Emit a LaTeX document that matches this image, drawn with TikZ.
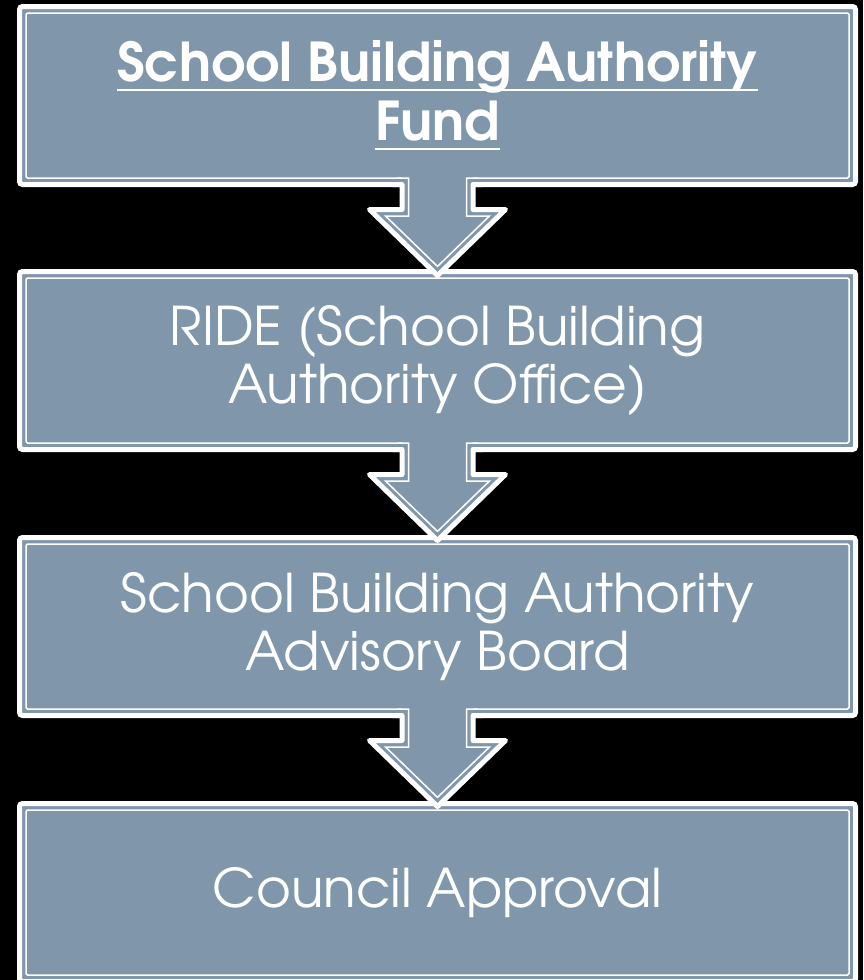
\documentclass[tikz,border=0pt]{standalone}
\usepackage{fontspec}
\setmainfont{TeX Gyre Adventor}
\usepackage{tikz}

\definecolor{slate}{RGB}{127,150,171}
% underline at a fixed depth, running through the descenders
\newcommand{\underrule}[1]{\setbox0\hbox{#1}\rlap{\rule[-9.5pt]{\wd0}{2.5pt}}\box0}

\tikzset{
    stage/.style={draw=white, fill=slate, line width=5pt, rounded corners=3pt, outer sep=0pt,
        minimum width=836pt, minimum height=178pt, text=white, align=center,
        font=\fontsize{53.3}{58}\selectfont},
    inner rule/.style={white, line width=1.5pt, rounded corners=1.5pt},
    % hollow down arrow hanging from the south anchor of a stage
    pics/flowarrow/.style={code={
        \fill[slate] (-35.5,-9) -- (-35.5,25) -- (-68,25) -- (0,91) -- (68,25) -- (35.5,25) -- (35.5,-9) -- cycle;
        \draw[white, line width=5pt, line join=round]
            (-45,0) -- (-35.5,0) -- (-35.5,25) -- (-68,25) -- (0,91) -- (68,25) -- (35.5,25) -- (35.5,0) -- (45,0);
        \draw[white, line width=1.5pt]
            (-40,-6.5) -- (-29,-6.5) -- (-29,31.5) -- (-52,31.5) -- (0,81.9) -- (52,31.5) -- (29,31.5) -- (29,-6.5) -- (40,-6.5);
    }}
}

\begin{document}
\begin{tikzpicture}[x=1pt, y=-1pt]
    \path[use as bounding box] (0,0) rectangle (863,980);
    \clip (0,0) rectangle (863,980);
    \fill[black] (0,0) rectangle (863,980);

    \node[stage, font=\fontsize{53.5}{59}\selectfont\bfseries] (fund) at (437.5, 95.5)
        {\underrule{School Building Authority}\\\underrule{Fund}};
    \node[stage] (ride) at (437.5, 360.5) {RIDE (School Building\\Authority Office)};
    \node[stage] (board) at (437.5, 626.5) {School Building Authority\\Advisory Board};
    \node[stage] (council) at (437.5, 892.5) {Council Approval};

    \foreach \n in {fund, ride, board, council}
        \draw[inner rule] ([shift={(6.5,6.5)}]\n.north west) rectangle ([shift={(-6.5,-6.5)}]\n.south east);

    \pic at (fund.south) {flowarrow};
    \pic at (ride.south) {flowarrow};
    \pic at (board.south) {flowarrow};
\end{tikzpicture}
\end{document}
